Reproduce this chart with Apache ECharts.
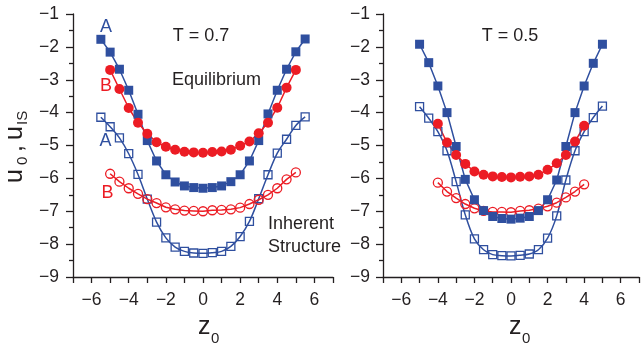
<!DOCTYPE html>
<html>
<head>
<meta charset="utf-8">
<script src="https://cdn.jsdelivr.net/npm/echarts@6/dist/echarts.min.js"></script>
<style>
  html, body { margin: 0; padding: 0; background: #fff; }
  #chart { width: 642px; height: 349px; }
</style>
</head>
<body>
<div id="chart"></div>
<script>
// z0 positions and energies, T = 0.7 panel
const zA07 = [-5.5,-5,-4.5,-4,-3.5,-3,-2.5,-2,-1.5,-1,-0.5,0,0.5,1,1.5,2,2.5,3,3.5,4,4.5,5,5.5];
const uA07eq = [-1.77,-2.16,-2.68,-3.32,-4.05,-4.85,-5.47,-5.89,-6.11,-6.23,-6.28,-6.30,-6.28,-6.23,-6.10,-5.89,-5.47,-4.85,-4.04,-3.32,-2.68,-2.15,-1.76];
const uA07is = [-4.14,-4.43,-4.77,-5.25,-5.88,-6.63,-7.33,-7.81,-8.09,-8.22,-8.27,-8.28,-8.26,-8.22,-8.07,-7.77,-7.31,-6.62,-5.89,-5.23,-4.81,-4.39,-4.13];
const zB07 = [-5,-4.5,-4,-3.5,-3,-2.5,-2,-1.5,-1,-0.5,0,0.5,1,1.5,2,2.5,3,3.5,4,4.5,5];
const uB07eq = [-2.70,-3.28,-3.86,-4.31,-4.64,-4.90,-5.04,-5.13,-5.19,-5.21,-5.22,-5.20,-5.18,-5.13,-5.01,-4.88,-4.63,-4.31,-3.85,-3.24,-2.70];
const uB07is = [-5.86,-6.10,-6.30,-6.47,-6.63,-6.75,-6.88,-6.94,-6.98,-6.99,-7.00,-6.97,-6.96,-6.94,-6.89,-6.78,-6.65,-6.50,-6.30,-6.03,-5.82];

// z0 positions and energies, T = 0.5 panel
const zA05 = [-5,-4.5,-4,-3.5,-3,-2.5,-2,-1.5,-1,-0.5,0,0.5,1,1.5,2,2.5,3,3.5,4,4.5,5];
const uA05eq = [-1.92,-2.48,-3.19,-4.00,-5.03,-6.03,-6.65,-6.98,-7.16,-7.22,-7.24,-7.21,-7.16,-6.98,-6.65,-6.05,-5.03,-4.00,-3.19,-2.50,-1.92];
const uA05is = [-3.82,-4.17,-4.58,-5.16,-6.10,-7.11,-7.84,-8.17,-8.32,-8.35,-8.36,-8.34,-8.30,-8.17,-7.82,-7.14,-6.05,-5.16,-4.58,-4.15,-3.80];
const zB05 = [-4,-3.5,-3,-2.5,-2,-1.5,-1,-0.5,0,0.5,1,1.5,2,2.5,3,3.5,4];
const uB05eq = [-4.34,-4.91,-5.29,-5.56,-5.79,-5.89,-5.94,-5.96,-5.97,-5.95,-5.94,-5.89,-5.74,-5.54,-5.29,-4.88,-4.40];
const uB05is = [-6.13,-6.40,-6.60,-6.78,-6.91,-6.99,-7.02,-7.02,-7.03,-6.99,-6.97,-6.92,-6.85,-6.74,-6.58,-6.40,-6.18];

const xTicks = [-6,-4,-2,0,2,4,6];
const yTicks = [-1,-2,-3,-4,-5,-6,-7,-8,-9];

const BLUE = '#2f4f9f';
const RED = '#ec1c24';
const INK = '#231f20';
const FONT = '"Liberation Sans", Arial, sans-serif';

const pairs = (xs, ys) => xs.map((x, i) => [x, ys[i]]);
const minus = v => (v < 0 ? '\u2212' + Math.abs(v) : String(v));

function xAxisFor(idx) {
  return {
    type: 'value', gridIndex: idx, min: -7, max: 7, interval: 1,
    axisLine: { show: true, onZero: false, lineStyle: { color: INK, width: 1.3 } },
    axisTick: { show: true, length: 6, lineStyle: { color: INK, width: 1.3 } },
    axisLabel: {
      fontSize: 17.5, fontFamily: FONT, color: INK, margin: 14,
      formatter: v => (xTicks.includes(v) ? minus(v) : '')
    },
    splitLine: { show: false }
  };
}
function yAxisFor(idx, margin) {
  return {
    type: 'value', gridIndex: idx, min: -9, max: -1, interval: 1,
    axisLine: { show: true, onZero: false, lineStyle: { color: INK, width: 1.3 } },
    axisTick: { show: true, length: 7, lineStyle: { color: INK, width: 1.3 } },
    minorTick: { show: true, splitNumber: 2, length: 4, lineStyle: { color: INK, width: 1.3 } },
    axisLabel: {
      fontSize: 17.5, fontFamily: FONT, color: INK, margin: margin,
      formatter: v => (yTicks.includes(v) ? minus(v) : '')
    },
    splitLine: { show: false }, minorSplitLine: { show: false }
  };
}

function filled(idx, xs, ys, symbol, size, color) {
  return {
    type: 'line', xAxisIndex: idx, yAxisIndex: idx, data: pairs(xs, ys),
    symbol: symbol, symbolSize: size, showAllSymbol: true,
    lineStyle: { color: color, width: 1.5 },
    itemStyle: { color: color, borderWidth: 0 },
    emphasis: { disabled: true }
  };
}
function hollow(idx, xs, ys, symbol, size, color, smooth) {
  return {
    type: 'line', xAxisIndex: idx, yAxisIndex: idx, data: pairs(xs, ys),
    symbol: symbol, symbolSize: size, showAllSymbol: true, smooth: smooth,
    lineStyle: { color: color, width: 1.5 },
    itemStyle: { color: 'rgba(255,255,255,0)', borderColor: color, borderWidth: 1.3 },
    emphasis: { disabled: true }
  };
}

function label(text, x, y, color, align) {
  return {
    type: 'text', x: x, y: y, silent: true,
    style: { text: text, fill: color, font: '18px ' + FONT, align: align || 'center', verticalAlign: 'middle' }
  };
}
function piece(text, x, y, size) {
  return {
    type: 'text', x: x, y: y, silent: true,
    style: { text: text, fill: INK, font: size + 'px ' + FONT, align: 'left', verticalAlign: 'middle' }
  };
}

const chart = echarts.init(document.getElementById('chart'), null, { renderer: 'canvas' });
chart.setOption({
  animation: false,
  backgroundColor: '#ffffff',
  grid: [
    { left: 73, top: 14, width: 260, height: 263 },
    { left: 383, top: 14, width: 261, height: 263 }
  ],
  xAxis: [xAxisFor(0), xAxisFor(1)],
  yAxis: [yAxisFor(0, 14), yAxisFor(1, 13)],
  series: [
    hollow(0, zA07, uA07is, 'rect', 8, BLUE, 0.35),
    hollow(0, zB07, uB07is, 'circle', 9, RED, false),
    filled(0, zA07, uA07eq, 'rect', 9, BLUE),
    filled(0, zB07, uB07eq, 'circle', 10, RED),
    hollow(1, zA05, uA05is, 'rect', 8, BLUE, 0.35),
    hollow(1, zB05, uB05is, 'circle', 9, RED, false),
    filled(1, zA05, uA05eq, 'rect', 9, BLUE),
    filled(1, zB05, uB05eq, 'circle', 10, RED)
  ],
  graphic: [
    label('T = 0.7', 201, 36, INK),
    label('T = 0.5', 510, 36, INK),
    label('Equilibrium', 172, 80, INK, 'left'),
    label('Inherent', 268, 224, INK, 'left'),
    label('Structure', 268, 247, INK, 'left'),
    label('A', 106, 27, BLUE),
    label('B', 106, 86, RED),
    label('A', 105.5, 141, BLUE),
    label('B', 107.5, 193, RED),
    // x-axis titles: z with subscript 0
    piece('z', 198, 327, 25),
    piece('0', 211, 339, 15),
    piece('z', 509, 327, 25),
    piece('0', 522, 339, 15),
    // y-axis title, rotated to read upward
    {
      type: 'group', x: 0, y: 0, rotation: Math.PI / 2, silent: true,
      children: [
        piece('u', -183, 15, 25),
        piece('0', -165, 23, 15),
        piece(',', -152, 15, 25),
        piece('u', -140, 15, 25),
        piece('IS', -125, 23, 15)
      ]
    }
  ]
});
</script>
</body>
</html>
